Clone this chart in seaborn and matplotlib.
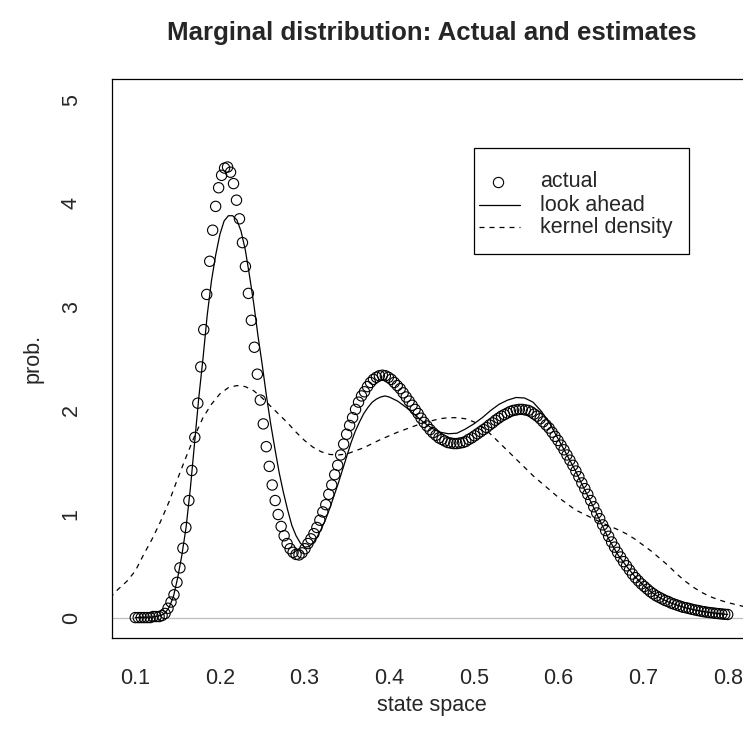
import numpy as np
import pandas as pd
import matplotlib
matplotlib.use("Agg")
import matplotlib.pyplot as plt
import seaborn as sns
from matplotlib.patches import Rectangle

# "actual" marginal density, 200 points on a regular grid 0.1 .. 0.8
actual_x = np.linspace(0.1, 0.8, 200)
actual_y = [
    0.00, 0.00, 0.00, 0.00, 0.00, 0.00, 0.01, 0.01, 0.01, 0.02,
    0.04, 0.09, 0.15, 0.22, 0.34, 0.48, 0.67, 0.87, 1.13, 1.42,
    1.74, 2.07, 2.42, 2.78, 3.12, 3.44, 3.74, 3.97, 4.15, 4.27,
    4.34, 4.35, 4.30, 4.19, 4.03, 3.85, 3.62, 3.39, 3.13, 2.87,
    2.61, 2.35, 2.10, 1.87, 1.65, 1.46, 1.28, 1.13, 0.995, 0.88,
    0.79, 0.715, 0.665, 0.63, 0.61, 0.605, 0.625, 0.665, 0.715, 0.76,
    0.81, 0.87, 0.94, 1.02, 1.09, 1.19, 1.28, 1.38, 1.47, 1.57,
    1.675, 1.77, 1.855, 1.93, 2.01, 2.08, 2.14, 2.18, 2.23, 2.27,
    2.30, 2.32, 2.335, 2.34, 2.335, 2.32, 2.30, 2.27, 2.24, 2.21,
    2.17, 2.13, 2.09, 2.05, 2.01, 1.97, 1.925, 1.885, 1.85, 1.815,
    1.785, 1.76, 1.735, 1.72, 1.705, 1.69, 1.685, 1.68, 1.68, 1.685,
    1.69, 1.70, 1.72, 1.735, 1.755, 1.775, 1.795, 1.815, 1.835, 1.86,
    1.88, 1.905, 1.925, 1.945, 1.96, 1.975, 1.99, 2.00, 2.005, 2.01,
    2.01, 2.005, 2.00, 1.985, 1.965, 1.945, 1.92, 1.89, 1.86, 1.83,
    1.79, 1.75, 1.71, 1.665, 1.62, 1.57, 1.52, 1.47, 1.415, 1.36,
    1.30, 1.245, 1.19, 1.13, 1.07, 1.01, 0.955, 0.895, 0.84, 0.785,
    0.73, 0.68, 0.63, 0.585, 0.54, 0.50, 0.46, 0.42, 0.385, 0.355,
    0.325, 0.30, 0.275, 0.25, 0.23, 0.21, 0.195, 0.18, 0.165, 0.155,
    0.14, 0.13, 0.12, 0.11, 0.10, 0.095, 0.088, 0.08, 0.074, 0.068,
    0.062, 0.057, 0.052, 0.048, 0.045, 0.041, 0.038, 0.035, 0.032, 0.03,
]

# look-ahead estimate
look_x = [0.10, 0.12, 0.13, 0.135, 0.14, 0.145, 0.15, 0.155, 0.16, 0.165,
          0.17, 0.175, 0.18, 0.185, 0.19, 0.195, 0.20, 0.205, 0.21, 0.215,
          0.22, 0.225, 0.23, 0.235, 0.24, 0.245, 0.25, 0.255, 0.26, 0.265,
          0.27, 0.275, 0.28, 0.285, 0.29, 0.295, 0.30, 0.305, 0.31, 0.315,
          0.32, 0.325, 0.33, 0.335, 0.34, 0.345, 0.35, 0.355, 0.36, 0.365,
          0.37, 0.375, 0.38, 0.385, 0.39, 0.395, 0.40, 0.41, 0.42, 0.43,
          0.44, 0.45, 0.46, 0.47, 0.48, 0.49, 0.50, 0.51, 0.52, 0.53,
          0.54, 0.55, 0.56, 0.57, 0.58, 0.59, 0.60, 0.61, 0.62, 0.63,
          0.64, 0.65, 0.66, 0.67, 0.68, 0.69, 0.70, 0.71, 0.72, 0.73,
          0.74, 0.75, 0.76, 0.77, 0.78, 0.79, 0.80]
look_y = [0.00, 0.005, 0.02, 0.04, 0.10, 0.20, 0.38, 0.60, 0.87, 1.24,
          1.68, 2.12, 2.50, 2.92, 3.25, 3.50, 3.70, 3.83, 3.88, 3.88,
          3.84, 3.73, 3.55, 3.30, 3.03, 2.72, 2.44, 2.14, 1.87, 1.63,
          1.40, 1.21, 1.04, 0.89, 0.79, 0.72, 0.68, 0.685, 0.72, 0.78,
          0.86, 0.95, 1.06, 1.18, 1.30, 1.43, 1.56, 1.69, 1.80, 1.89,
          1.97, 2.03, 2.08, 2.11, 2.13, 2.14, 2.13, 2.09, 2.03, 1.96,
          1.89, 1.83, 1.79, 1.775, 1.78, 1.82, 1.87, 1.93, 2.00, 2.06,
          2.10, 2.125, 2.12, 2.08, 1.99, 1.87, 1.72, 1.57, 1.42, 1.25,
          1.09, 0.92, 0.75, 0.61, 0.50, 0.40, 0.315, 0.245, 0.19, 0.15,
          0.12, 0.095, 0.075, 0.06, 0.048, 0.038, 0.03]

# kernel density estimate
kde_x = [0.070, 0.078, 0.09, 0.10, 0.11, 0.12, 0.13, 0.14, 0.15, 0.16,
         0.17, 0.18, 0.19, 0.20, 0.21, 0.22, 0.23, 0.24, 0.25, 0.26,
         0.27, 0.28, 0.29, 0.30, 0.31, 0.32, 0.33, 0.34, 0.35, 0.36,
         0.37, 0.38, 0.39, 0.40, 0.41, 0.42, 0.43, 0.44, 0.45, 0.46,
         0.47, 0.48, 0.49, 0.50, 0.51, 0.52, 0.53, 0.54, 0.55, 0.56,
         0.57, 0.58, 0.59, 0.60, 0.61, 0.62, 0.63, 0.64, 0.65, 0.66,
         0.67, 0.68, 0.69, 0.70, 0.71, 0.72, 0.73, 0.74, 0.75, 0.76,
         0.77, 0.78, 0.79, 0.80, 0.81, 0.82, 0.83]
kde_y = [0.19, 0.26, 0.35, 0.45, 0.61, 0.76, 0.93, 1.12, 1.34, 1.55,
         1.75, 1.93, 2.06, 2.16, 2.22, 2.24, 2.23, 2.19, 2.12, 2.04,
         1.96, 1.88, 1.79, 1.71, 1.645, 1.60, 1.575, 1.57, 1.58, 1.61,
         1.64, 1.68, 1.72, 1.755, 1.79, 1.82, 1.85, 1.88, 1.90, 1.92,
         1.93, 1.93, 1.92, 1.89, 1.84, 1.77, 1.69, 1.61, 1.53, 1.45,
         1.37, 1.30, 1.23, 1.16, 1.10, 1.04, 1.00, 0.96, 0.92, 0.885,
         0.85, 0.81, 0.76, 0.70, 0.64, 0.57, 0.50, 0.42, 0.35, 0.29,
         0.24, 0.20, 0.17, 0.145, 0.125, 0.105, 0.09]

legend_labels = ["actual", "look ahead", "kernel density"]

sns.set_style("white")
plt.rcParams['font.family'] = ['Liberation Sans', 'DejaVu Sans']

base = 15.5
fig = plt.figure(figsize=(7.43, 7.43), dpi=100)
# plot region (right part runs past the image edge, as in the reference)
ax = fig.add_axes([112 / 743, 104.7 / 743, 639.4 / 743, 559.3 / 743])

ax.axhline(0, color="#BEBEBE", lw=0.9, zorder=1)

sns.lineplot(x=kde_x, y=kde_y, ax=ax, color="black", lw=0.9,
             dashes=False, linestyle=(0, (4, 4)), zorder=2)
sns.lineplot(x=look_x, y=look_y, ax=ax, color="black", lw=0.9, zorder=3)
sns.scatterplot(x=actual_x, y=actual_y, ax=ax, marker="o", s=55,
                facecolor="none", edgecolor="black", linewidth=0.8, zorder=4)

ax.set_xlim(0.0725, 0.828)
ax.set_ylim(-0.2, 5.2)
ax.set_xticks([0.1, 0.2, 0.3, 0.4, 0.5, 0.6, 0.7, 0.8])
ax.set_yticks([0, 1, 2, 3, 4, 5])
ax.set_xticklabels(["0.1", "0.2", "0.3", "0.4", "0.5", "0.6", "0.7", "0.8"])
ax.set_yticklabels(["0", "1", "2", "3", "4", "5"], rotation=90, va="center")
ax.tick_params(axis="both", direction="out", length=9.7, width=0.9,
               color="black", labelsize=base, pad=12)
for sp in ax.spines.values():
    sp.set_color("black")
    sp.set_linewidth(0.9)

# legend drawn like R's legend box
tr = ax.transAxes
ax.add_patch(Rectangle((0.5662, 0.6869), (689.3 - 474) / 639.4, 106.6 / 559.3,
                       transform=tr, fill=False, edgecolor="black", lw=0.9,
                       zorder=5))
rows = [(638.3 - 181.7) / 559.3, (638.3 - 205) / 559.3, (638.3 - 227.3) / 559.3]
x_handle0 = (479.3 - 112) / 639.4
x_handle1 = (520 - 112) / 639.4
x_mid = (498.3 - 112) / 639.4
x_text = (540 - 112) / 639.4
ax.plot([x_mid], [rows[0]], transform=tr, marker="o", ms=7.4, mfc="none",
        mec="black", mew=0.8, ls="none", zorder=6)
ax.plot([x_handle0, x_handle1], [rows[1]] * 2, transform=tr, color="black",
        lw=0.9, zorder=6)
ax.plot([x_handle0, x_handle1], [rows[2]] * 2, transform=tr, color="black",
        lw=0.9, ls=(0, (4, 4)), zorder=6)
for r, lab in zip(rows, legend_labels):
    ax.text(x_text, r, lab, transform=tr, fontsize=base, va="center",
            ha="left", zorder=6)

fig.text(431.7 / 743, 1 - 33 / 743, "Marginal distribution: Actual and estimates",
         ha="center", va="center", fontsize=base * 1.2, fontweight="bold")
fig.text(431.7 / 743, 1 - 706 / 743, "state space", ha="center", va="center",
         fontsize=base)
fig.text(33 / 743, 1 - 358 / 743, "prob.", ha="center", va="center",
         rotation=90, fontsize=base)

fig.savefig("out.png", dpi=100)
